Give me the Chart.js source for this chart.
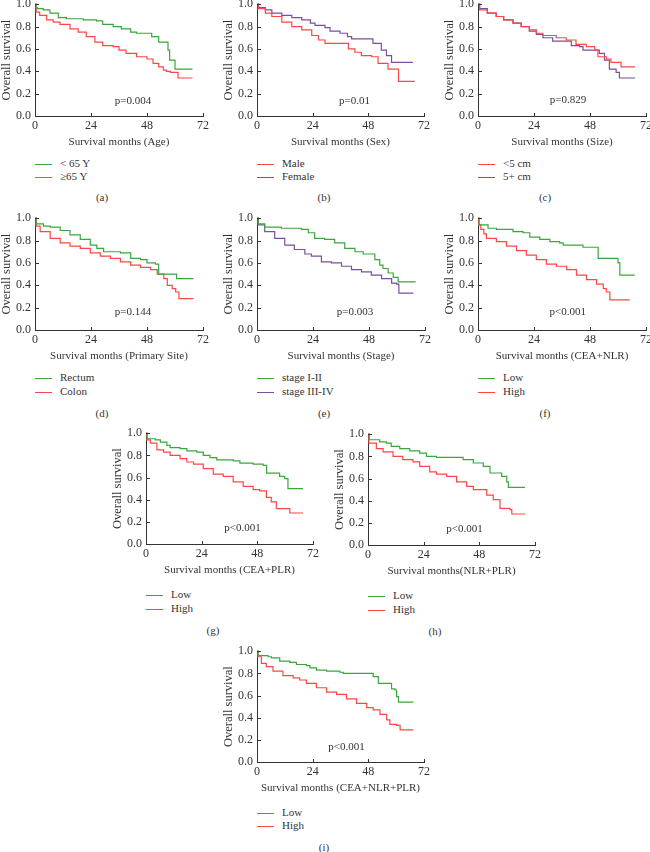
<!DOCTYPE html>
<html>
<head>
<meta charset="utf-8">
<script src="https://cdn.jsdelivr.net/npm/chart.js@4.4.0/dist/chart.umd.min.js"></script>
<style>
html, body { margin:0; padding:0; background:#fff; width:650px; height:852px; overflow:hidden; }
body { position:relative; font-family:"Liberation Serif","DejaVu Serif",serif; color:#333; }
.wrap { position:absolute; }
.leg { position:absolute; font-size:11px; line-height:14px; white-space:nowrap; }
.leg i { display:inline-block; width:17px; height:0; border-top:1.3px solid; vertical-align:middle; margin-right:8px; }
.cap { position:absolute; font-size:11px; line-height:14px; transform:translateX(-50%); }
</style>
</head>
<body>
<script>
// survival curves: [month, survival]
const ageUnder65 = [[0,1],[0.5,0.97],[1,0.96],[3.5,0.95],[6.4,0.92],[10,0.88],[13.5,0.87],[20.7,0.86],[26.4,0.85],[29,0.82],[33.5,0.8],[37,0.78],[41,0.75],[43.5,0.74],[50,0.71],[53,0.66],[57,0.59],[57.7,0.5],[60,0.42],[67.5,0.42]];
const ageOver65 = [[0,1],[0.5,0.93],[2,0.9],[5,0.86],[7.8,0.84],[10.7,0.82],[15,0.78],[18.5,0.75],[22,0.71],[25.7,0.66],[29,0.63],[33.5,0.62],[36,0.59],[39,0.56],[43.5,0.53],[48,0.51],[50.6,0.47],[53,0.44],[55,0.41],[56.3,0.4],[58,0.39],[61.3,0.34],[67.5,0.34]];
const sexMale = [[0,1],[0.5,0.96],[3.6,0.92],[6.4,0.89],[10.7,0.84],[15,0.8],[19.3,0.77],[23.6,0.72],[26.5,0.68],[29.3,0.65],[36.5,0.65],[39.4,0.6],[42.2,0.57],[45,0.54],[49.4,0.53],[52.2,0.47],[56.5,0.42],[61,0.31],[68,0.31]];
const sexFemale = [[0,1],[0.7,0.97],[3.6,0.95],[6.4,0.92],[10.7,0.9],[15,0.88],[19.3,0.86],[23,0.83],[25,0.81],[29.3,0.79],[31.5,0.76],[35.8,0.74],[39,0.71],[40.8,0.69],[50,0.65],[53.6,0.59],[55.8,0.54],[58,0.48],[67.2,0.48]];
const sizeSmall = [[0,1],[0.7,0.95],[4,0.92],[7.8,0.89],[11,0.86],[15,0.83],[18.5,0.8],[22,0.77],[25,0.74],[27.8,0.72],[33.5,0.7],[37.8,0.68],[42,0.64],[46.4,0.62],[50,0.59],[51.4,0.53],[55,0.51],[57,0.48],[61.3,0.44],[67.3,0.44]];
const sizeLarge = [[0,1],[0.7,0.96],[4,0.92],[7.8,0.89],[11,0.86],[15,0.83],[18.5,0.8],[22,0.76],[25,0.73],[27.8,0.7],[32,0.67],[40,0.63],[43.5,0.62],[45,0.59],[52,0.56],[54.2,0.5],[56.3,0.42],[59.2,0.39],[60.6,0.34],[67.3,0.34]];
const siteRectum = [[0,1],[0.5,0.95],[3.6,0.93],[6.5,0.92],[10.8,0.89],[15,0.85],[19.4,0.81],[23.7,0.76],[26.5,0.73],[29.4,0.7],[36.6,0.69],[41,0.64],[45.2,0.63],[48,0.6],[51.6,0.59],[53,0.5],[60.7,0.46],[67.9,0.46]];
const siteColon = [[0,1],[0.5,0.93],[2.2,0.88],[6.5,0.82],[10.8,0.78],[15,0.75],[19.4,0.73],[23.7,0.69],[28,0.66],[32.3,0.64],[36.6,0.61],[41,0.58],[45.2,0.56],[49.5,0.54],[52.4,0.5],[55.2,0.46],[56.7,0.4],[58.8,0.37],[60.3,0.34],[61.7,0.28],[67.9,0.28]];
const stageEarly = [[0,1],[0.5,0.95],[3.3,0.92],[10.4,0.91],[19,0.9],[22,0.87],[24.7,0.82],[29,0.81],[33.3,0.78],[37.6,0.73],[42,0.7],[45.5,0.68],[50.5,0.63],[52.6,0.58],[54,0.55],[56.2,0.51],[58.4,0.47],[60.5,0.43],[68,0.43]];
const stageLate = [[0,1],[0.5,0.94],[3.3,0.88],[7.6,0.82],[11.9,0.76],[16,0.72],[20.5,0.68],[23.3,0.66],[27.6,0.61],[31.9,0.6],[36.2,0.57],[40.5,0.54],[44.8,0.52],[49,0.49],[53.4,0.46],[57.7,0.42],[59.8,0.41],[60.8,0.33],[67,0.33]];
const ceaNlrLow = [[0,1],[0.5,0.94],[4.3,0.91],[7.9,0.9],[15,0.88],[19.3,0.87],[22.2,0.83],[26.5,0.81],[30.8,0.79],[35,0.78],[36.5,0.76],[45,0.74],[51.5,0.64],[60,0.6],[60.8,0.49],[67.2,0.49]];
const ceaNlrHigh = [[0,1],[0.3,0.94],[1.2,0.9],[2.5,0.86],[3.6,0.82],[7.9,0.79],[12.2,0.75],[16.5,0.71],[20.7,0.67],[25,0.63],[29.3,0.59],[33.6,0.57],[38,0.54],[42.2,0.49],[46.5,0.45],[50.8,0.41],[53.7,0.37],[55,0.34],[56.5,0.27],[65,0.27]];
const ceaPlrLow = [[0,1],[0.5,0.95],[4,0.94],[6.2,0.92],[9,0.89],[10.4,0.87],[14.7,0.86],[17.6,0.84],[21.9,0.83],[24.7,0.8],[27.6,0.78],[30.5,0.76],[37.6,0.75],[40.5,0.73],[46.2,0.72],[50.5,0.71],[52,0.64],[57.6,0.61],[59.8,0.59],[61.2,0.5],[67.7,0.5]];
const ceaPlrHigh = [[0,1],[0.4,0.94],[1.9,0.91],[4.7,0.85],[7.6,0.83],[10.4,0.8],[14.7,0.77],[17.6,0.74],[20.5,0.72],[24.7,0.68],[29,0.63],[33.3,0.61],[37.6,0.56],[41.9,0.52],[46.2,0.49],[49,0.48],[51.9,0.42],[54,0.38],[56.2,0.32],[62,0.28],[67.7,0.28]];
const nlrPlrLow = [[0,1],[0.5,0.95],[5,0.93],[7.9,0.92],[10,0.89],[13.7,0.87],[18,0.85],[22.3,0.83],[25.2,0.8],[29.5,0.79],[41,0.77],[45.4,0.74],[49.7,0.71],[52.6,0.65],[57.6,0.62],[59.8,0.57],[60.5,0.52],[67.7,0.52]];
const nlrPlrHigh = [[0,1],[0.4,0.92],[3.6,0.87],[6.5,0.84],[10.8,0.8],[15,0.77],[19.4,0.75],[22.3,0.71],[26.6,0.66],[29.5,0.64],[33.9,0.62],[38.2,0.57],[42.5,0.53],[45.4,0.5],[51.2,0.45],[54,0.41],[56.9,0.33],[61.2,0.32],[62,0.28],[67.7,0.28]];
const allLow = [[0,1],[0.5,0.96],[4.8,0.95],[6.2,0.94],[9.8,0.91],[14.1,0.9],[17,0.88],[21.3,0.87],[22.8,0.85],[25.6,0.83],[30,0.82],[35.7,0.81],[37.2,0.8],[50.1,0.77],[52.3,0.71],[58,0.66],[59.5,0.65],[60.2,0.59],[61,0.54],[67.4,0.54]];
const allHigh = [[0,1],[0.4,0.95],[1.9,0.89],[4,0.86],[6.9,0.82],[11.2,0.78],[15.6,0.76],[18.4,0.74],[21.3,0.71],[25.6,0.67],[30,0.63],[34.3,0.61],[38.6,0.57],[42.9,0.53],[47.3,0.49],[50.1,0.47],[53,0.43],[55.9,0.38],[57.3,0.34],[60.2,0.33],[61.7,0.29],[67.4,0.29]];

const xTicks = [0, 24, 48, 72];
const yTicks = [0, 0.2, 0.4, 0.6, 0.8, 1.0];

const GREEN = '#3da53d', RED = '#ff4545', PURPLE = '#7b4f9c';
const FONT = '"Liberation Serif", "DejaVu Serif", serif';

// box = pixel rect of the plot area on the page; leg/cap = offsets below the x axis
const panels = [
  {cap:'(a)', box:{l:35,t:4,r:203,b:116}, title:'Survival months (Age)', p:'p=0.004', pAt:[42,0.13], leg:[47,60], capY:81,
   series:[['< 65 Y', ageUnder65, GREEN], ['\u226565 Y', ageOver65, RED]]},
  {cap:'(b)', box:{l:257,t:4,r:424,b:116}, title:'Survival months (Sex)', p:'p=0.01', pAt:[42,0.13], leg:[47,60], capY:81,
   series:[['Male', sexMale, RED], ['Female', sexFemale, PURPLE]]},
  {cap:'(c)', box:{l:478,t:4,r:646,b:116}, title:'Survival months (Size)', p:'p=0.829', pAt:[38.6,0.14], leg:[47,60], capY:81,
   series:[['<5 cm', sizeSmall, RED], ['5+ cm', sizeLarge, PURPLE]]},
  {cap:'(d)', box:{l:35,t:218,r:203,b:330}, title:'Survival months (Primary Site)', p:'p=0.144', pAt:[42,0.16], leg:[47,61], capY:83,
   series:[['Rectum', siteRectum, GREEN], ['Colon', siteColon, RED]]},
  {cap:'(e)', box:{l:257,t:218,r:425,b:330}, title:'Survival months (Stage)', p:'p=0.003', pAt:[42,0.16], leg:[47,61], capY:83,
   series:[['stage I-II', stageEarly, GREEN], ['stage III-IV', stageLate, PURPLE]]},
  {cap:'(f)', box:{l:478,t:218,r:646,b:330}, title:'Survival months (CEA+NLR)', p:'p<0.001', pAt:[38.5,0.16], leg:[47,61], capY:83,
   series:[['Low', ceaNlrLow, GREEN], ['High', ceaNlrHigh, RED]]},
  {cap:'(g)', box:{l:146,t:433,r:313,b:544}, title:'Survival months (CEA+PLR)', p:'p<0.001', pAt:[41.6,0.14], leg:[50,64], capY:86,
   series:[['Low', ceaPlrLow, GREEN], ['High', ceaPlrHigh, RED]]},
  {cap:'(h)', box:{l:368,t:434,r:535,b:545}, title:'Survival months(NLR+PLR)', p:'p<0.001', pAt:[41.6,0.14], leg:[50,64], capY:86,
   series:[['Low', nlrPlrLow, GREEN], ['High', nlrPlrHigh, RED]]},
  {cap:'(i)', box:{l:257,t:651,r:424,b:762}, title:'Survival months (CEA+NLR+PLR)', p:'p<0.001', pAt:[38.6,0.13], leg:[50,63], capY:85,
   series:[['Low', allLow, GREEN], ['High', allHigh, RED]]}
];

// small ticks pointing into the plot
const inTicks = {
  id: 'inTicks',
  afterDraw(c) {
    const {ctx, scales: {x, y}} = c;
    ctx.save();
    ctx.strokeStyle = '#333';
    ctx.lineWidth = 1;
    ctx.beginPath();
    xTicks.slice(1).forEach(v => {
      const px = Math.round(x.getPixelForValue(v)) + 0.5;
      ctx.moveTo(px, y.bottom); ctx.lineTo(px, y.bottom - 3);
    });
    yTicks.slice(1).forEach(v => {
      const py = Math.round(y.getPixelForValue(v)) + 0.5;
      ctx.moveTo(x.left, py); ctx.lineTo(x.left + 4, py);
    });
    ctx.stroke();
    ctx.restore();
  }
};

const pText = {
  id: 'pText',
  afterDatasetsDraw(c, args, opts) {
    const {ctx, scales: {x, y}} = c;
    ctx.save();
    ctx.font = '11px ' + FONT;
    ctx.fillStyle = '#333';
    ctx.textAlign = 'center';
    ctx.textBaseline = 'middle';
    ctx.fillText(opts.text, x.getPixelForValue(opts.at[0]), y.getPixelForValue(opts.at[1]));
    ctx.restore();
  }
};

function makeChart(p, w, h) {
  const wrap = document.createElement('div');
  wrap.className = 'wrap';
  wrap.style.width = w + 'px';
  wrap.style.height = h + 'px';
  const cv = document.createElement('canvas');
  cv.width = w; cv.height = h;
  wrap.appendChild(cv);
  document.body.appendChild(wrap);
  const tickFont = {family: FONT, size: 12};
  const xTitleFont = {family: FONT, size: 11};
  const yTitleFont = {family: FONT, size: 12.5};
  const chart = new Chart(cv, {
    type: 'line',
    data: {
      datasets: p.series.map(s => ({
        label: s[0],
        data: s[1].map(d => ({x: d[0], y: d[1]})),
        borderColor: s[2],
        borderWidth: 1.2,
        pointRadius: 0,
        stepped: 'before',
        fill: false,
        clip: 3
      }))
    },
    options: {
      responsive: false,
      maintainAspectRatio: false,
      animation: false,
      events: [],
      layout: {padding: 0},
      plugins: {
        legend: {display: false},
        tooltip: {enabled: false},
        pText: {text: p.p, at: p.pAt}
      },
      scales: {
        x: {
          type: 'linear', min: 0, max: 72,
          afterBuildTicks: s => { s.ticks = xTicks.map(v => ({value: v})); },
          ticks: {font: tickFont, color: '#333', padding: 3, maxRotation: 0},
          grid: {display: false, drawTicks: false},
          border: {display: true, color: '#333', width: 1},
          title: {display: true, text: p.title, font: xTitleFont, color: '#333', padding: 0},
          afterFit: s => { s.height = 33; }
        },
        y: {
          type: 'linear', min: 0, max: 1,
          afterBuildTicks: s => { s.ticks = yTicks.map(v => ({value: v})); },
          ticks: {font: tickFont, color: '#333', padding: 4, callback: v => v.toFixed(1)},
          grid: {display: false, drawTicks: false},
          border: {display: true, color: '#333', width: 1},
          title: {display: true, text: 'Overall survival', font: yTitleFont, color: '#333', padding: 0},
          afterFit: s => { s.width = 36; }
        }
      }
    },
    plugins: [inTicks, pText]
  });
  return {wrap, chart};
}

panels.forEach(p => {
  const b = p.box;
  const tw = b.r - b.l, th = b.b - b.t;
  // first pass to learn the library's own margins, second pass sized to fit
  let w = tw + 50, h = th + 45;
  let r = makeChart(p, w, h);
  let ca = r.chart.chartArea;
  const nw = w + tw - (ca.right - ca.left);
  const nh = h + th - (ca.bottom - ca.top);
  r.chart.destroy();
  r.wrap.remove();
  r = makeChart(p, nw, nh);
  ca = r.chart.chartArea;
  r.wrap.style.left = (b.l - ca.left) + 'px';
  r.wrap.style.top = (b.t - ca.top) + 'px';

  p.series.forEach((s, i) => {
    const d = document.createElement('div');
    d.className = 'leg';
    d.style.left = b.l + 'px';
    d.style.top = (b.b + p.leg[i] - 7) + 'px';
    d.innerHTML = '<i style="border-color:' + s[2] + '"></i>';
    d.appendChild(document.createTextNode(s[0]));
    document.body.appendChild(d);
  });
  const c = document.createElement('div');
  c.className = 'cap';
  c.style.left = (b.l + 67) + 'px';
  c.style.top = (b.b + p.capY - 7) + 'px';
  c.textContent = p.cap;
  document.body.appendChild(c);
});
</script>
</body>
</html>
